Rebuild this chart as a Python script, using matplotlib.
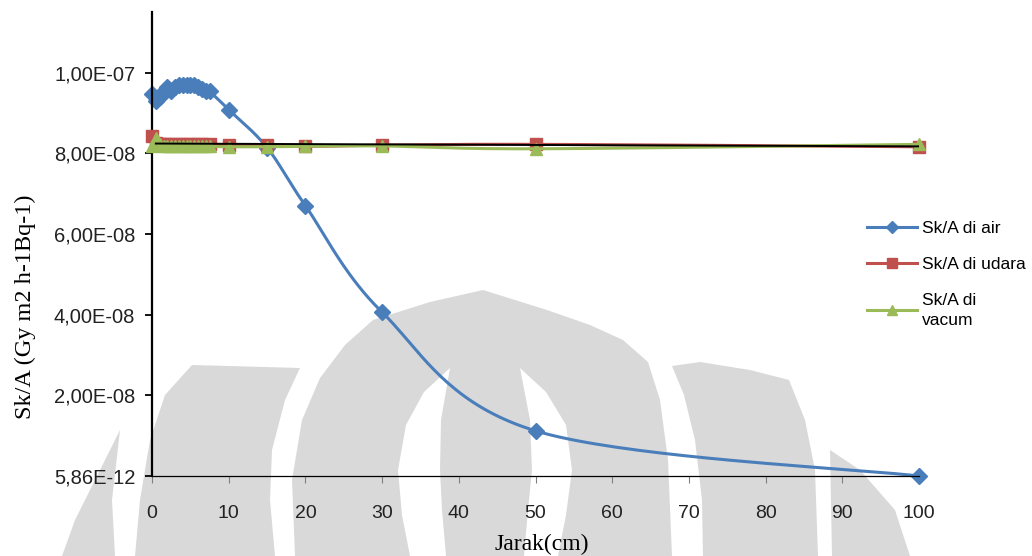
import numpy as np
import matplotlib
matplotlib.use("Agg")
import matplotlib.pyplot as plt
from matplotlib.patches import Polygon
from matplotlib.lines import Line2D

# jarak (cm)
jarak = [0, 0.5, 1, 1.5, 2, 2.5, 3, 3.5, 4, 4.5, 5, 5.5, 6, 6.5, 7, 7.5,
         10, 15, 20, 30, 50, 100]

# Sk/A (Gy m2 h-1 Bq-1)
sk_air = [9.48e-8, 9.29e-8, 9.40e-8, 9.53e-8, 9.63e-8, 9.55e-8, 9.63e-8, 9.68e-8,
          9.70e-8, 9.70e-8, 9.69e-8, 9.68e-8, 9.65e-8, 9.60e-8, 9.55e-8, 9.53e-8,
          9.08e-8, 8.14e-8, 6.70e-8, 4.06e-8, 1.12e-8, 5.86e-12]
sk_udara = [8.42e-8, 8.26e-8, 8.22e-8, 8.22e-8, 8.22e-8, 8.21e-8, 8.22e-8, 8.22e-8,
            8.21e-8, 8.22e-8, 8.22e-8, 8.21e-8, 8.22e-8, 8.22e-8, 8.21e-8, 8.22e-8,
            8.20e-8, 8.21e-8, 8.17e-8, 8.20e-8, 8.22e-8, 8.16e-8]
sk_vacum = [8.18e-8, 8.38e-8, 8.22e-8, 8.17e-8, 8.18e-8, 8.17e-8, 8.18e-8, 8.17e-8,
            8.18e-8, 8.17e-8, 8.18e-8, 8.17e-8, 8.18e-8, 8.17e-8, 8.18e-8, 8.17e-8,
            8.16e-8, 8.16e-8, 8.17e-8, 8.18e-8, 8.11e-8, 8.22e-8]
# garis hitam
jarak_hitam = [0.5, 100]
sk_hitam = [8.24e-8, 8.17e-8]

yticks = [5.86e-12, 2e-8, 4e-8, 6e-8, 8e-8, 1e-7]
ytick_labels = ["5,86E-12", "2,00E-08", "4,00E-08", "6,00E-08", "8,00E-08", "1,00E-07"]
xticks = list(range(0, 101, 10))
labels = ["Sk/A di air", "Sk/A di udara", "Sk/A di\nvacum"]

c_air = "#4a7ebb"
c_udara = "#c0504d"
c_vacum = "#9bbb59"


def smooth(xs, ys, n=40):
    # garis halus ala excel (bezier lewat titik data)
    P = np.column_stack([np.asarray(xs) * 7.67, np.asarray(ys) / 1e-7 * 403])
    P = np.vstack([P[0], P, P[-1]])
    t = np.linspace(0, 1, n)[:, None]
    out = []
    for i in range(1, len(P) - 2):
        p0, p1, p2, p3 = P[i - 1], P[i], P[i + 1], P[i + 2]
        c1 = p1 + (p2 - p0) / 6
        c2 = p2 - (p3 - p1) / 6
        out.append((1 - t) ** 3 * p1 + 3 * (1 - t) ** 2 * t * c1
                   + 3 * (1 - t) * t ** 2 * c2 + t ** 3 * p2)
    out = np.vstack(out)
    return out[:, 0] / 7.67, out[:, 1] * 1e-7 / 403


W, H = 1032, 556
fig = plt.figure(figsize=(W / 100, H / 100), dpi=100)

# watermark logo (abu-abu)
def fpx(pts):
    return [(x / W, 1 - y / H) for x, y in pts]

grey = "#d9d9d9"
shapes = [
    ([(295, 556), (292, 480), (302, 420), (320, 378), (345, 345), (373, 320), (430, 302),
      (483, 290), (547, 310), (590, 325), (623, 340), (648, 362), (660, 400), (668, 460),
      (672, 556)], grey),
    ([(450, 368), (424, 392), (406, 425), (398, 470), (402, 515), (410, 556), (446, 556),
      (442, 510), (440, 470), (441, 420)], "white"),
    ([(520, 368), (546, 392), (566, 425), (572, 470), (566, 515), (558, 556), (524, 556),
      (528, 510), (532, 470), (530, 420)], "white"),
    ([(192, 365), (300, 368), (285, 400), (272, 450), (270, 500), (275, 556), (135, 556),
      (140, 500), (150, 440), (165, 395)], grey),
    ([(120, 430), (112, 500), (115, 556), (62, 556), (75, 520), (100, 470)], grey),
    ([(672, 366), (700, 362), (750, 370), (789, 380), (805, 420), (815, 470), (818, 556),
      (703, 556), (702, 500), (695, 440), (684, 395)], grey),
    ([(830, 450), (860, 470), (895, 510), (910, 556), (832, 556)], grey),
]
for pts, col in shapes:
    fig.add_artist(Polygon(fpx(pts), closed=True, facecolor=col, edgecolor="none",
                           transform=fig.transFigure, zorder=-1))

ax = fig.add_axes([152 / W, 1 - 476 / H, (919 - 152) / W, (476 - 12) / H])
ax.set_facecolor("none")

series = [
    (sk_air, c_air, "D", 8),
    (sk_udara, c_udara, "s", 8.5),
    (sk_vacum, c_vacum, "^", 8.5),
]
handles = []
for i, (ys, col, mk, ms) in enumerate(series):
    sx, sy = smooth(jarak, ys)
    ax.plot(sx, sy, color=col, lw=2.2, zorder=2 + i, clip_on=False)
    ax.plot(jarak, ys, ls="none", marker=mk, ms=ms, color=col, zorder=2 + i,
            clip_on=False)
    handles.append(Line2D([], [], color=col, lw=2.2, marker=mk, ms=ms - 2))

ax.plot(jarak_hitam, sk_hitam, color="black", lw=1.4, zorder=6)

ax.set_xlim(0, 100)
ax.set_ylim(5.86e-12, 1.15e-7)
ax.set_xticks(xticks)
ax.set_xticklabels([str(v) for v in xticks])
ax.set_yticks(yticks)
ax.set_yticklabels(ytick_labels)

for s in ["top", "right"]:
    ax.spines[s].set_visible(False)
ax.spines["left"].set_linewidth(1.6)
ax.spines["bottom"].set_linewidth(0.9)
ax.tick_params(axis="y", direction="out", length=5, width=1.3, pad=7,
               labelsize=14.5, labelcolor="#222222", labelfontfamily="Liberation Sans")
ax.tick_params(axis="x", direction="out", length=5, width=0.8, color="#808080",
               pad=16, labelsize=14, labelcolor="#222222",
               labelfontfamily="Liberation Sans")

fig.text(25 / W, 1 - 307 / H, "Sk/A (Gy m2 h-1Bq-1)", rotation=90, ha="center",
         va="center", fontsize=17.5, family="Liberation Serif")
fig.text(542 / W, 1 - 544 / H, "Jarak(cm)", ha="center", va="center", fontsize=17,
         family="Liberation Serif")

leg = fig.legend(handles, labels, loc="upper left", bbox_to_anchor=(851 / W, 1 - 205 / H),
                 frameon=False, handlelength=2.9, handletextpad=0.3, labelspacing=1.2,
                 prop={"family": "Liberation Sans", "size": 12.5})
leg.get_texts()[2].set_linespacing(1.45)

fig.savefig("out.png", dpi=100)
